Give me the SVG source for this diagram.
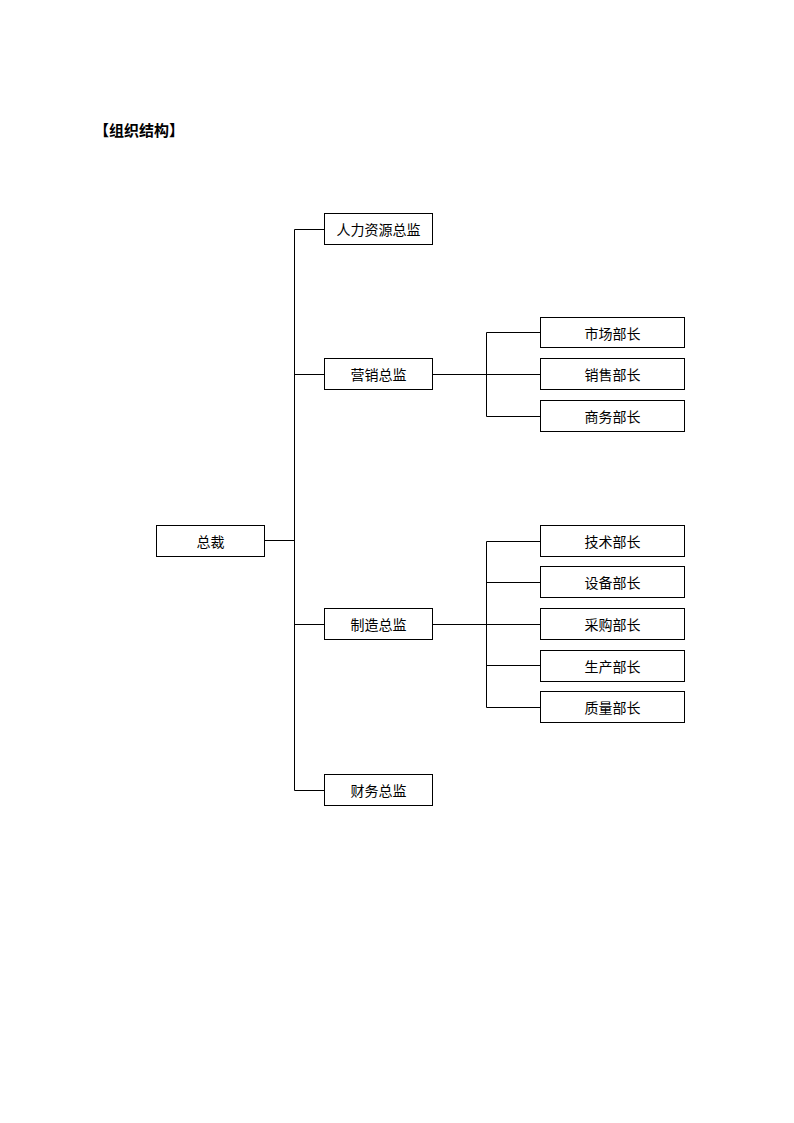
<svg xmlns="http://www.w3.org/2000/svg" width="794" height="1123" viewBox="0 0 794 1123">
<style>
.box{fill:#fff;stroke:#000;stroke-width:1}
.t{font-family:"Liberation Sans","Noto Sans CJK SC",sans-serif;font-size:14px;fill:#000;text-anchor:middle;dominant-baseline:central}
.c{fill:none;stroke:#000;stroke-width:1}
.title{font-family:"Liberation Sans","Noto Sans CJK SC",sans-serif;font-size:15px;font-weight:bold;fill:#000}
</style>
<rect width="794" height="1123" fill="#fff"/>
<text class="title" x="94" y="136">【组织结构】</text>
<g id="connectors">
<path class="c" d="M264.5 540.5H294.5M294.5 229.5V790.5M294.5 229.5H324.5M294.5 374.5H324.5M294.5 624.5H324.5M294.5 790.5H324.5"/>
<path class="c" d="M432.5 374.5H540.5M486.5 332.5V416.5M486.5 332.5H540.5M486.5 416.5H540.5"/>
<path class="c" d="M432.5 624.5H540.5M486.5 541.5V707.5M486.5 541.5H540.5M486.5 582.5H540.5M486.5 665.5H540.5M486.5 707.5H540.5"/>
</g>
<g id="ceo"><rect class="box" x="156.5" y="525.5" width="108" height="31"/><text class="t" x="210.5" y="542">总裁</text></g>
<g id="hr"><rect class="box" x="324.5" y="213.5" width="108" height="31"/><text class="t" x="378.5" y="230">人力资源总监</text></g>
<g id="sales"><rect class="box" x="324.5" y="358.5" width="108" height="31"/><text class="t" x="378.5" y="375">营销总监</text></g>
<g id="mfg"><rect class="box" x="324.5" y="608.5" width="108" height="31"/><text class="t" x="378.5" y="625">制造总监</text></g>
<g id="fin"><rect class="box" x="324.5" y="774.5" width="108" height="31"/><text class="t" x="378.5" y="791">财务总监</text></g>
<g id="market"><rect class="box" x="540.5" y="317.5" width="144" height="30"/><text class="t" x="612.5" y="334">市场部长</text></g>
<g id="sell"><rect class="box" x="540.5" y="358.5" width="144" height="31"/><text class="t" x="612.5" y="375">销售部长</text></g>
<g id="biz"><rect class="box" x="540.5" y="400.5" width="144" height="31"/><text class="t" x="612.5" y="417">商务部长</text></g>
<g id="tech"><rect class="box" x="540.5" y="525.5" width="144" height="31"/><text class="t" x="612.5" y="542">技术部长</text></g>
<g id="equip"><rect class="box" x="540.5" y="566.5" width="144" height="31"/><text class="t" x="612.5" y="583">设备部长</text></g>
<g id="purchase"><rect class="box" x="540.5" y="608.5" width="144" height="31"/><text class="t" x="612.5" y="625">采购部长</text></g>
<g id="prod"><rect class="box" x="540.5" y="650.5" width="144" height="31"/><text class="t" x="612.5" y="667">生产部长</text></g>
<g id="qual"><rect class="box" x="540.5" y="691.5" width="144" height="31"/><text class="t" x="612.5" y="708">质量部长</text></g>
</svg>
